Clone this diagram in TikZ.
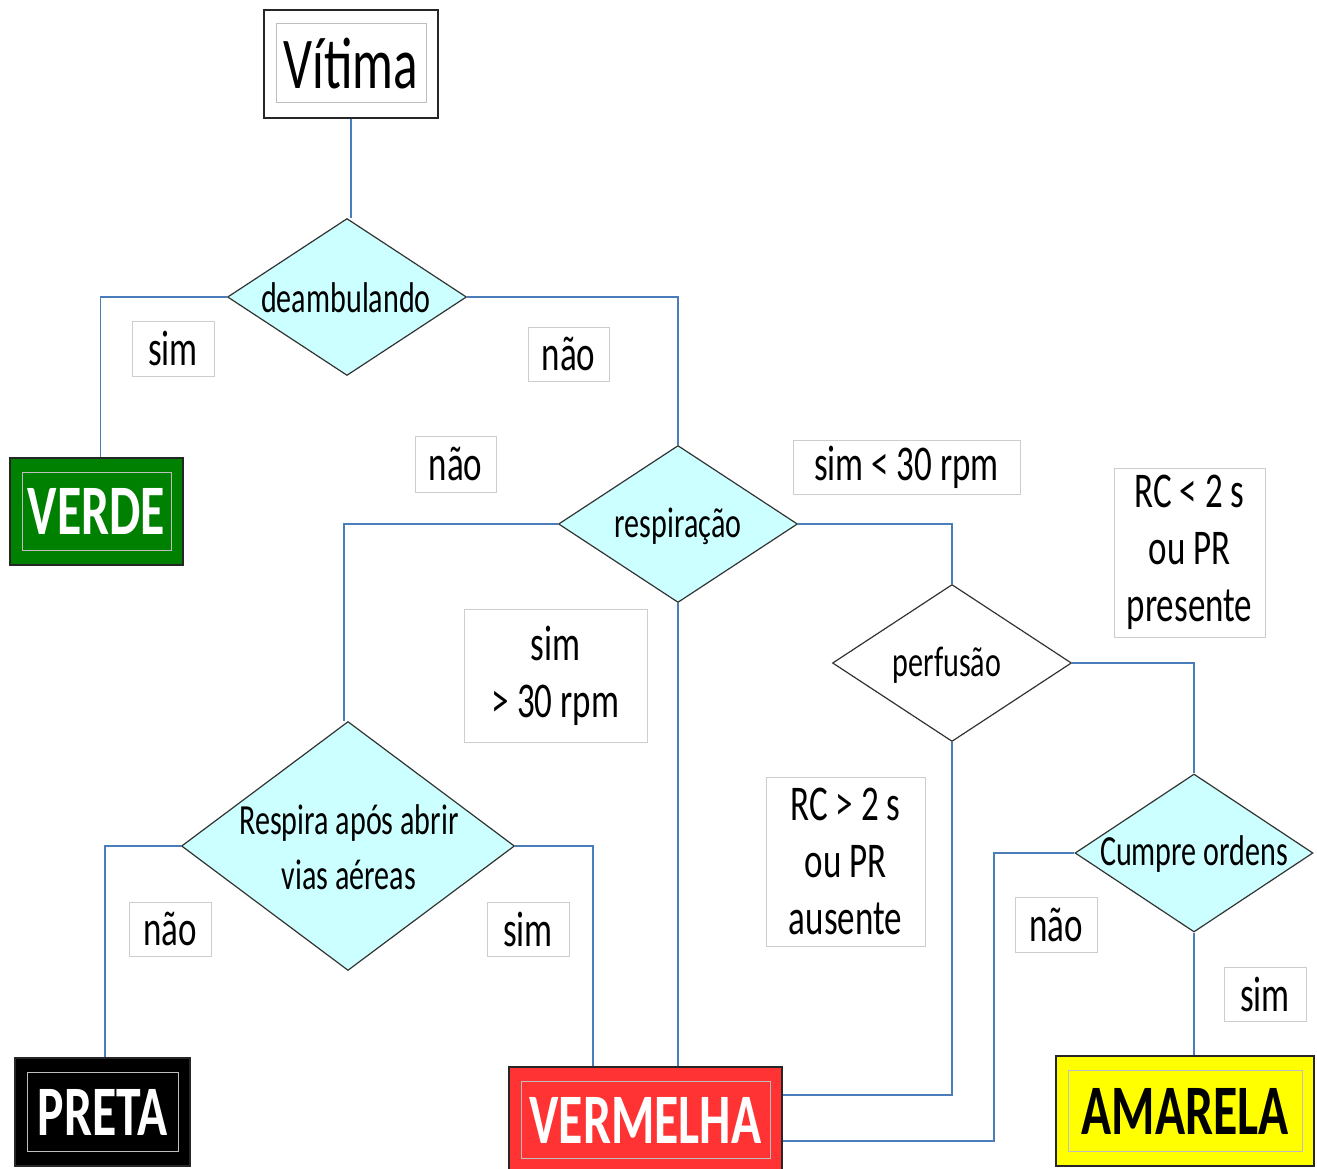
\documentclass[tikz,border=0pt]{standalone}
\usepackage{fontspec}
\setmainfont[FakeStretch=0.7]{Carlito}
\usetikzlibrary{shapes.geometric,calc}
\definecolor{linkblue}{RGB}{74,126,187}
\definecolor{dcyan}{RGB}{204,255,255}
\definecolor{vgreen}{RGB}{0,128,0}
\definecolor{vred}{RGB}{255,51,51}
\definecolor{vyellow}{RGB}{255,255,0}
\definecolor{lblgray}{RGB}{205,205,205}
\definecolor{innerc}{RGB}{190,190,190}
\begin{document}
\begin{tikzpicture}[x=1pt,y=-1pt,
 link/.style={draw=linkblue, line width=1.3pt},
 dec/.style={diamond, draw=black!80, line width=1.2pt, fill=dcyan, inner sep=0pt, minimum width=239pt, minimum height=157pt},
 lbl/.style={draw=lblgray, line width=1pt, fill=white, inner sep=0pt, font=\fontsize{50}{57}\selectfont, align=center},
 dtext/.style={font=\fontsize{43}{55}\selectfont, align=center, inner sep=0pt},
 catbox/.style={draw=black!85, line width=1.5pt, inner sep=0pt, text=white,
   font=\bfseries\fontsize{71}{80}\selectfont,
   path picture={\draw[innerc, line width=1pt] ([shift={(12pt,-14pt)}]path picture bounding box.north west) rectangle ([shift={(-12pt,15pt)}]path picture bounding box.south east);}},
]
\useasboundingbox[fill=white] (0,0) rectangle (1317,1169);

% category boxes
\node[catbox, fill=white, text=black, font=\fontsize{73}{80}\selectfont, minimum width=174pt, minimum height=108pt] (vit) at (351,64) {Vítima};
\node[catbox, fill=vgreen, minimum width=173pt, minimum height=107pt] (verde) at (96.5,511.5) {VERDE};
\node[catbox, fill=black, minimum width=175pt, minimum height=108pt] (preta) at (102.5,1112) {PRETA};
\node[catbox, fill=vred, minimum width=273pt, minimum height=106pt] (verm) at (645.5,1120) {VERMELHA};
\node[catbox, fill=vyellow, text=black, minimum width=258pt, minimum height=110pt] (amar) at (1185,1111) {AMARELA};

% decisions
\node[dec] (deam) at (347,297) {};
\node[dtext] (tdeam) at (346,298) {deambulando};
\node[dec] (resp) at (678,524) {};
\node[dtext] (tresp) at (678,526) {respiração};
\node[dec, fill=white] (perf) at (952,663) {};
\node[dtext] (tperf) at (947,665) {perfusão};
\node[dec, minimum width=333pt, minimum height=249pt] (respira) at (348,846) {};
\node[dtext] (trespira) at (349,847) {Respira após abrir\\vias aéreas};
\node[dec, minimum width=238pt, minimum height=158pt] (cumpre) at (1194,853) {};
\node[dtext] (tcumpre) at (1194,854) {Cumpre ordens};

% labels
\node[lbl, minimum width=82pt, minimum height=55pt] (l1) at (173,348.5) {sim};
\node[lbl, minimum width=81pt, minimum height=54pt] (l2) at (568.5,354) {não};
\node[lbl, minimum width=81pt, minimum height=56pt] (l3) at (455.5,464) {não};
\node[lbl, minimum width=227pt, minimum height=54pt] (l4) at (906.5,467) {sim < 30 rpm};
\node[lbl, minimum width=151pt, minimum height=169pt] (l5) at (1189.5,552.5) {RC < 2 s\\ou PR\\presente};
\node[lbl, minimum width=183pt, minimum height=133pt] (l6) at (555.5,675.5) {sim\\> 30 rpm};
\node[lbl, minimum width=159pt, minimum height=169pt] (l7) at (845.5,861.5) {RC > 2 s\\ou PR\\ausente};
\node[lbl, minimum width=82pt, minimum height=54pt] (l8) at (170,929) {não};
\node[lbl, minimum width=82pt, minimum height=54pt] (l9) at (528,929) {sim};
\node[lbl, minimum width=82pt, minimum height=55pt] (l10) at (1056,924.5) {não};
\node[lbl, minimum width=82pt, minimum height=54pt] (l11) at (1265,994) {sim};

% connectors
\coordinate (cj) at (994,853);
\draw[link] (vit.south) -- (vit.south |- deam.north);
\draw[link] (deam.west) -| ([xshift=4pt]verde.north);
\draw[link] (deam.east) -| (resp.north);
\draw[link] (resp.west) -| ([xshift=-4pt]respira.north);
\draw[link] (resp.south) -- (resp.south |- verm.north);
\draw[link] (resp.east) -| (perf.north);
\draw[link] (perf.south) |- ([yshift=25pt]verm.east);
\draw[link] (perf.east) -| (cumpre.north);
\draw[link] (cumpre.west) -- (cj) |- ([yshift=-21pt]verm.east);
\draw[link] (cumpre.south) -- (cumpre.south |- amar.north);
\draw[link] (respira.west) -| ([xshift=2.5pt]preta.north);
\draw[link] (respira.east) -| ([xshift=-52.5pt]verm.north);
\end{tikzpicture}
\end{document}
